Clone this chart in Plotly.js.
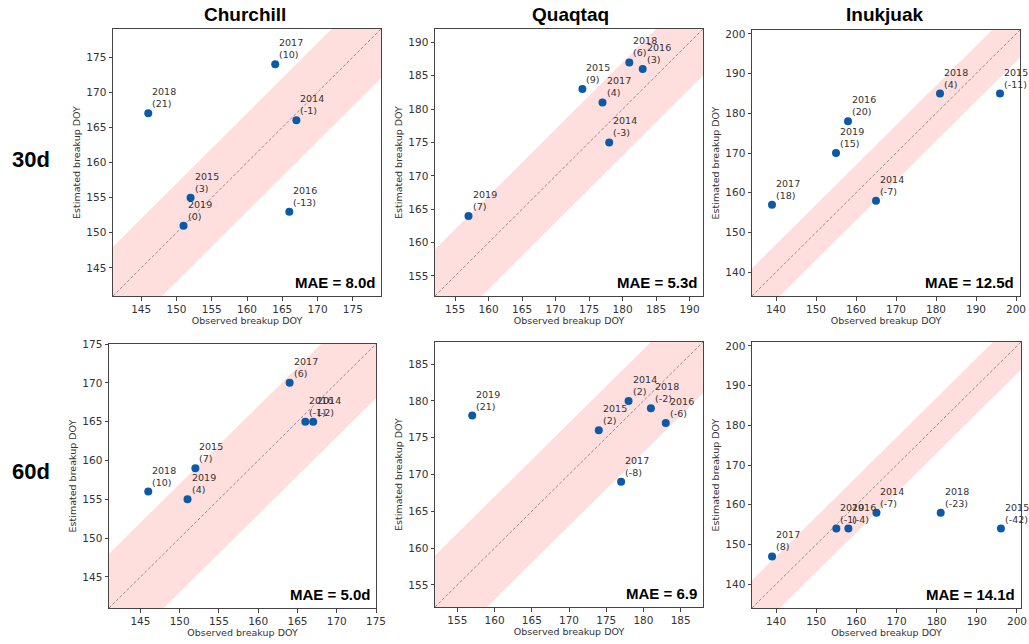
<!DOCTYPE html>
<html><head><meta charset="utf-8">
<script src="https://cdn.plot.ly/plotly-3.0.1.min.js"></script>
<style>html,body{margin:0;padding:0;background:#fff}#chart{width:1029px;height:644px}</style>
</head><body><div id="chart"></div>
<script>
const stations = ['Churchill', 'Quaqtaq', 'Inukjuak'];
const windows = ['30d', '60d'];
const years = ['2014', '2015', '2016', '2017', '2018', '2019'];
const obsChurchill = [167, 152, 166, 164, 146, 151];
const est30Churchill = [166, 155, 153, 174, 167, 151];
const est60Churchill = [165, 159, 165, 170, 156, 155];
const obsQuaqtaq = [178, 174, 183, 177, 181, 157];
const est30Quaqtaq = [175, 183, 186, 181, 187, 164];
const est60Quaqtaq = [180, 176, 177, 169, 179, 178];
const obsInukjuak = [165, 196, 158, 139, 181, 155];
const est30Inukjuak = [158, 185, 178, 157, 185, 170];
const est60Inukjuak = [158, 154, 154, 147, 158, 154];
const maeLabels = ['MAE = 8.0d', 'MAE = 5.3d', 'MAE = 12.5d', 'MAE = 5.0d', 'MAE = 6.9', 'MAE = 14.1d'];
const tickSteps = [5, 5, 10, 5, 5, 10];
const bandHalfWidth = 7;
const rangePad = 5;

const panels = [
  {obs: obsChurchill, est: est30Churchill},
  {obs: obsQuaqtaq, est: est30Quaqtaq},
  {obs: obsInukjuak, est: est30Inukjuak},
  {obs: obsChurchill, est: est60Churchill},
  {obs: obsQuaqtaq, est: est60Quaqtaq},
  {obs: obsInukjuak, est: est60Inukjuak}
];

const W = 1029, H = 644;
const xDom = [[113, 381], [435, 703], [752, 1020], [109, 376], [435, 703], [752, 1021]];
const yDom = [[29, 296], [29, 296], [30, 296], [344, 608], [342, 607], [342, 608]];

const traces = [];
const annotations = [];
const layout = {
  width: W, height: H,
  margin: {l: 0, r: 0, t: 0, b: 0},
  paper_bgcolor: '#fff', plot_bgcolor: '#fff',
  showlegend: false,
  font: {family: 'DejaVu Sans', color: '#222'}
};

panels.forEach((p, i) => {
  const k = i === 0 ? '' : String(i + 1);
  const xa = 'x' + k, ya = 'y' + k;
  const all = p.obs.concat(p.est);
  const lo = Math.min(...all) - rangePad;
  const hi = Math.max(...all) + rangePad;
  const ext = 20;
  traces.push({
    x: [lo - ext, hi + ext, hi + ext, lo - ext],
    y: [lo - ext + bandHalfWidth, hi + ext + bandHalfWidth, hi + ext - bandHalfWidth, lo - ext - bandHalfWidth],
    xaxis: xa, yaxis: ya, mode: 'lines', fill: 'toself',
    fillcolor: 'rgba(255,0,0,0.13)', line: {width: 0}, hoverinfo: 'skip'
  });
  traces.push({
    x: [lo, hi], y: [lo, hi], xaxis: xa, yaxis: ya, mode: 'lines',
    line: {color: '#777', width: 0.8, dash: '3px,2px'}, hoverinfo: 'skip'
  });
  traces.push({
    x: p.obs, y: p.est, xaxis: xa, yaxis: ya, mode: 'markers',
    marker: {color: '#0b5aa8', size: 8}
  });
  p.obs.forEach((o, j) => {
    const d = p.est[j] - o;
    annotations.push({
      x: o, y: p.est[j], xref: xa, yref: ya,
      text: years[j] + '<br>(' + d + ')', showarrow: false,
      xanchor: 'left', yanchor: 'bottom', align: 'left',
      xshift: 2, yshift: 2,
      font: {family: 'DejaVu Sans', size: 9.5, color: '#333'}
    });
  });
  annotations.push({
    x: 1, y: 0, xref: xa + ' domain', yref: ya + ' domain',
    text: '<b>' + maeLabels[i] + '</b>', showarrow: false,
    xanchor: 'right', yanchor: 'bottom', xshift: -4, yshift: 3,
    font: {family: 'Liberation Sans', size: 15, color: '#000'}
  });
  const axBase = {
    showline: true, mirror: true, linecolor: '#444', linewidth: 1,
    ticks: 'outside', ticklen: 3.5, tickcolor: '#444', tickwidth: 1,
    showgrid: false, zeroline: false, dtick: tickSteps[i], tick0: 0,
    tickfont: {family: 'DejaVu Sans', size: 10.5, color: '#333'},
    range: [lo, hi], fixedrange: true
  };
  layout['xaxis' + k] = Object.assign({}, axBase, {
    domain: [xDom[i][0] / W, xDom[i][1] / W], anchor: ya,
    title: {text: 'Observed breakup DOY', font: {family: 'DejaVu Sans', size: 9.5, color: '#333'}, standoff: 3}
  });
  layout['yaxis' + k] = Object.assign({}, axBase, {
    domain: [1 - yDom[i][1] / H, 1 - yDom[i][0] / H], anchor: xa,
    title: {text: 'Estimated breakup DOY', font: {family: 'DejaVu Sans', size: 9.5, color: '#333'}, standoff: 4}
  });
});

const titleX = [244.5, 570, 885];
stations.forEach((s, c) => {
  annotations.push({
    x: titleX[c] / W, y: 1 - 15 / H, xref: 'paper', yref: 'paper',
    text: '<b>' + s + '</b>', showarrow: false, xanchor: 'center', yanchor: 'middle',
    font: {family: 'Liberation Sans', size: 19, color: '#000'}
  });
});
const rowY = [159, 471];
windows.forEach((w, r) => {
  annotations.push({
    x: 30.5 / W, y: 1 - rowY[r] / H, xref: 'paper', yref: 'paper',
    text: '<b>' + w + '</b>', showarrow: false, xanchor: 'center', yanchor: 'middle',
    font: {family: 'Liberation Sans', size: 22, color: '#000'}
  });
});
layout.annotations = annotations;

Plotly.newPlot('chart', traces, layout, {displayModeBar: false, staticPlot: true});
</script>
</body></html>
